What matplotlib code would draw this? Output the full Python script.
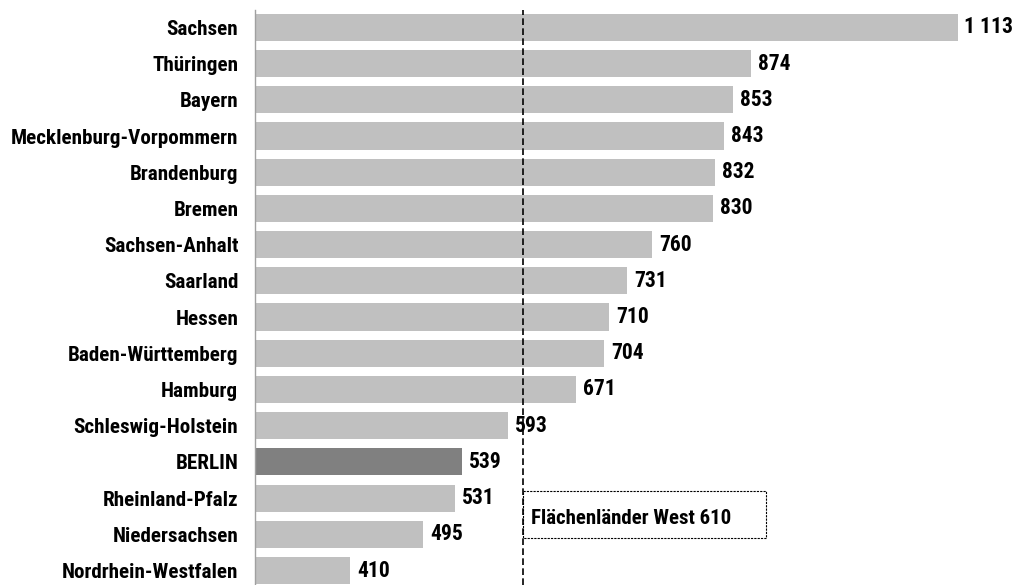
import matplotlib
matplotlib.use("Agg")
import matplotlib.pyplot as plt
from matplotlib.patches import Rectangle

laender = ["Sachsen", "Thüringen", "Bayern", "Mecklenburg-Vorpommern", "Brandenburg",
           "Bremen", "Sachsen-Anhalt", "Saarland", "Hessen", "Baden-Württemberg",
           "Hamburg", "Schleswig-Holstein", "BERLIN", "Rheinland-Pfalz",
           "Niedersachsen", "Nordrhein-Westfalen"]
werte = [1113, 874, 853, 843, 832, 830, 760, 731, 710, 704, 671, 593, 539, 531, 495, 410]
wert_labels = ["1 113", "874", "853", "843", "832", "830", "760", "731", "710", "704",
               "671", "593", "539", "531", "495", "410"]
highlight = "BERLIN"
west_mittel = 610
west_label = "Flächenländer West 610"

plt.rcParams["font.family"] = ["Roboto Condensed", "Liberation Sans Narrow",
                               "Liberation Sans", "DejaVu Sans"]
plt.rcParams["font.weight"] = "bold"

fig = plt.figure(figsize=(10.18, 5.85), dpi=100)
ax = fig.add_axes([255 / 1018, 0, 763 / 1018, 575 / 585])

xmin = 300
pos = list(range(len(laender)))
colors = ["#808080" if l == highlight else "#c0c0c0" for l in laender]
ax.barh(pos, [v - xmin for v in werte], left=xmin, height=0.75, color=colors)

for y, v, s in zip(pos, werte, wert_labels):
    ax.annotate(s, xy=(v, y), xytext=(5, 0), textcoords="offset points",
                va="center", ha="left", fontsize=15.5, fontweight="bold")

ax.axvline(west_mittel, color="black", lw=1.2, ls=(0, (4, 2)))
ax.add_patch(Rectangle((west_mittel, 12.8), 281, 1.3, fill=False, ec="black",
                       lw=0.8, ls=(0, (2, 1))))
ax.text(west_mittel + 9, 13.55, west_label, va="center", ha="left",
        fontsize=15, fontweight="bold")

ax.set_xlim(xmin, 1183)
ax.set_ylim(15.4, -0.48)
ax.set_yticks(pos)
ax.set_yticklabels(laender, fontsize=15.2, fontweight="bold")
ax.tick_params(axis="y", length=0, pad=12)
ax.set_xticks([])
for side in ["top", "right", "bottom"]:
    ax.spines[side].set_visible(False)
ax.spines["left"].set_color("#a0a0a0")
ax.spines["left"].set_linewidth(1)

fig.savefig("out.png", dpi=100)
